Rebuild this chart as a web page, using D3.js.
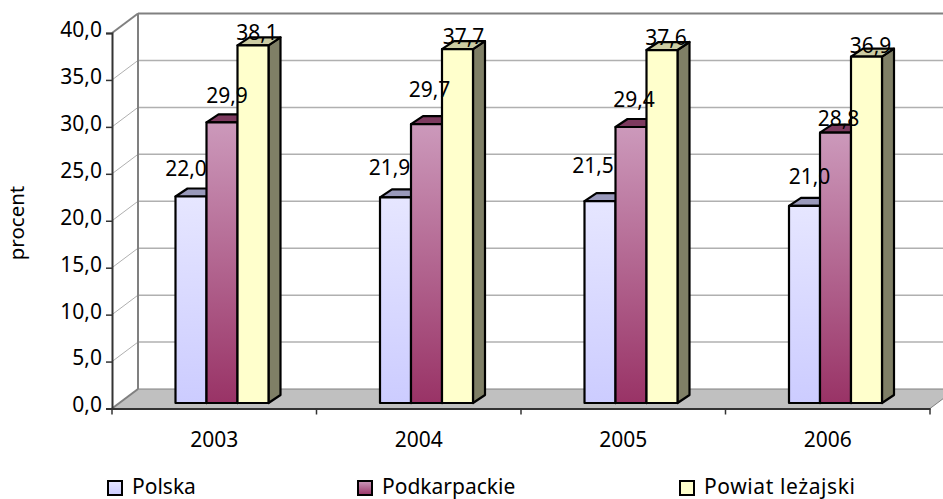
<!DOCTYPE html>
<html>
<head>
<meta charset="utf-8">
<script src="https://cdn.jsdelivr.net/npm/d3@7"></script>
<style>
  html, body { margin: 0; padding: 0; background: #fff; }
  svg { display: block; font-family: "Noto Sans", sans-serif; }
</style>
</head>
<body>
<div id="chart"></div>
<script>
const years = ["2003", "2004", "2005", "2006"];
const seriesNames = ["Polska", "Podkarpackie", "Powiat leżajski"];
const polska = [22.0, 21.9, 21.5, 21.0];
const podkarpackie = [29.9, 29.7, 29.4, 28.8];
const powiat = [38.1, 37.7, 37.6, 36.9];
const yTicks = [0, 5, 10, 15, 20, 25, 30, 35, 40];

const width = 943, height = 499;
const series = [polska, podkarpackie, powiat];
const fmt = v => v.toFixed(1).replace(".", ",");

// the "3d" box: front plane and how far the back wall is shifted
const frontLeft = 112, frontRight = 930;
const depthX = 26, depthY = -19.5;
const barDepthX = 12, barDepthY = -8;

const svg = d3.select("#chart").append("svg")
  .attr("width", width).attr("height", height);

const x = d3.scaleBand().domain(years).range([frontLeft, frontRight]);
const y = d3.scaleLinear().domain([0, 40]).range([408.5, 33]);
const inner = d3.scaleBand().domain(d3.range(3)).range([0, 93]);
const groupLeft = yr => x(yr) + 63.5;
const barBase = y(0) - 5.5;

const looks = [
  { top: "#e6e6ff", bottom: "#ccccff", cap: "#9999bb", side: "#7f7f99" },
  { top: "#cc99bb", bottom: "#993366", cap: "#7d3a5f", side: "#5c1f3d" },
  { top: "#ffffcc", bottom: "#ffffcc", cap: "#cccca3", side: "#7f7f66" }
];

// hand placement of the value labels, same as in the original: [dx, dy] per year, per series
const labelShift = [
  { base: [-5, -20], nudge: [[0, 0], [-1, -2], [-2, -8], [10, -2]] },
  { base: [5, -15], nudge: [[0, -4], [-2, -12], [-2, -5], [-2, 8]] },
  { base: [4, -5], nudge: [[0, 0], [2, 0], [0, 0], [0, 1]] }
];

const defs = svg.append("defs");
looks.forEach((l, i) => {
  const g = defs.append("linearGradient").attr("id", "grad" + i)
    .attr("x1", 0).attr("y1", 0).attr("x2", 0).attr("y2", 1);
  g.append("stop").attr("offset", 0).attr("stop-color", l.top);
  g.append("stop").attr("offset", 1).attr("stop-color", l.bottom);
});

// floor
svg.append("polygon")
  .attr("points", [
    [frontLeft, y(0)], [frontLeft + depthX, y(0) + depthY],
    [frontRight + depthX, y(0) + depthY], [frontRight, y(0)]
  ].join(" "))
  .attr("fill", "#c0c0c0")
  .attr("stroke", "#808080");

// back wall grid + side wall diagonals
const grid = svg.append("g");
grid.selectAll("line.back").data(yTicks.slice(1)).join("line")
  .attr("class", "back")
  .attr("x1", frontLeft + depthX).attr("x2", width)
  .attr("y1", d => y(d) + depthY).attr("y2", d => y(d) + depthY)
  .attr("stroke", d => d === 40 ? "#808080" : "#b0b0b0")
  .attr("stroke-width", d => d === 40 ? 2 : 1.5);
grid.selectAll("line.side").data(yTicks).join("line")
  .attr("class", "side")
  .attr("x1", frontLeft).attr("x2", frontLeft + depthX)
  .attr("y1", d => y(d)).attr("y2", d => y(d) + depthY)
  .attr("stroke", d => d === 40 || d === 0 ? "#808080" : "#b0b0b0")
  .attr("stroke-width", d => d === 40 || d === 0 ? 2 : 1);
grid.append("line")
  .attr("x1", frontLeft + depthX).attr("x2", frontLeft + depthX)
  .attr("y1", y(40) + depthY).attr("y2", y(0) + depthY)
  .attr("stroke", "#808080").attr("stroke-width", 2);

// bars, left to right so the side of one goes under the next
const bars = svg.append("g");
series.forEach((vals, s) => {
  const g = bars.append("g").selectAll("g").data(vals).join("g")
    .attr("stroke", "#000").attr("stroke-width", 2.2).attr("stroke-linejoin", "round");
  const bx = (d, i) => groupLeft(years[i]) + inner(s);
  const bw = inner.bandwidth();
  g.append("polygon").attr("fill", looks[s].side)
    .attr("points", (d, i) => {
      const r = bx(d, i) + bw, t = barBase - (y(0) - y(d));
      return [[r, t], [r + barDepthX, t + barDepthY], [r + barDepthX, barBase + barDepthY], [r, barBase]].join(" ");
    });
  g.append("polygon").attr("fill", looks[s].cap)
    .attr("points", (d, i) => {
      const l = bx(d, i), t = barBase - (y(0) - y(d));
      return [[l, t], [l + barDepthX, t + barDepthY], [l + bw + barDepthX, t + barDepthY], [l + bw, t]].join(" ");
    });
  g.append("rect").attr("fill", `url(#grad${s})`)
    .attr("x", bx).attr("width", bw)
    .attr("y", d => barBase - (y(0) - y(d)))
    .attr("height", d => y(0) - y(d));
});

// axes
const yAxis = svg.append("g").attr("transform", `translate(${frontLeft},0)`)
  .call(d3.axisLeft(y).tickValues(yTicks).tickFormat(fmt).tickSize(6).tickPadding(4));
const xAxis = svg.append("g").attr("transform", `translate(0,${y(0)})`)
  .call(d3.axisBottom(x).tickSize(0).tickPadding(24));
svg.selectAll(".domain").attr("stroke", "#333").attr("stroke-width", 2);
yAxis.selectAll("line").attr("stroke", "#333").attr("stroke-width", 1.5);
svg.selectAll(".tick text").attr("font-family", "Noto Sans").attr("font-size", 21).attr("fill", "#000");
yAxis.selectAll("text").attr("dy", "0.16em");
xAxis.selectAll("text").attr("dx", 0);
svg.append("g").selectAll("line").data(d3.range(5)).join("line")
  .attr("x1", i => frontLeft + i * x.bandwidth()).attr("x2", i => frontLeft + i * x.bandwidth())
  .attr("y1", y(0)).attr("y2", y(0) + 6)
  .attr("stroke", "#333").attr("stroke-width", 1.5);

// value labels
const labels = svg.append("g").attr("font-size", 21).attr("text-anchor", "middle");
series.forEach((vals, s) => {
  const shift = labelShift[s];
  labels.append("g").selectAll("text").data(vals).join("text")
    .attr("x", (d, i) => groupLeft(years[i]) + inner(s) + inner.bandwidth() / 2 + shift.base[0] + shift.nudge[i][0])
    .attr("y", (d, i) => barBase - (y(0) - y(d)) + shift.base[1] + shift.nudge[i][1])
    .text(fmt);
});

// axis title
svg.append("text")
  .attr("transform", "translate(24,223) rotate(-90)")
  .attr("text-anchor", "middle").attr("font-size", 20.5)
  .text("procent");

// legend
const legend = svg.append("g").selectAll("g").data(seriesNames).join("g")
  .attr("transform", (d, i) => `translate(${[108, 358, 680][i]},494)`);
legend.append("rect")
  .attr("x", 0).attr("y", -13).attr("width", 14).attr("height", 14)
  .attr("fill", (d, i) => `url(#grad${i})`)
  .attr("stroke", "#000").attr("stroke-width", 2);
legend.append("text")
  .attr("x", 24).attr("y", 0).attr("font-size", 21)
  .attr("letter-spacing", (d, i) => i === 2 ? 0.6 : 0)
  .text(d => d);
</script>
</body>
</html>
